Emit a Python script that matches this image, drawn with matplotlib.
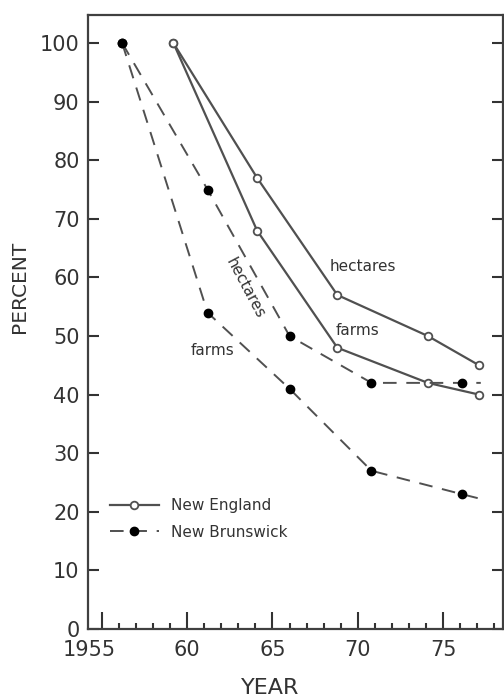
import numpy as np
import matplotlib.pyplot as plt
from matplotlib.transforms import ScaledTranslation

# New Brunswick (census years)
nb_years = [1956.2, 1961.2, 1966.0, 1970.8, 1976.1, 1977.2]
nb_hectares = [100, 75, 50, 42, 42, 42]
nb_farms = [100, 54, 41, 27, 23, 22.2]

# New England
ne_years = [1959.2, 1964.1, 1968.8, 1974.1, 1977.1]
ne_hectares = [100, 77, 57, 50, 45]
ne_farms = [100, 68, 48, 42, 40]

x_ticks = [1955, 1960, 1965, 1970, 1975]
x_labels = ['1955', '60', '65', '70', '75']
y_ticks = list(range(0, 101, 10))

line_col = '#505050'
text_col = '#333333'

plt.rcParams['font.family'] = 'DejaVu Sans'

fig = plt.figure(figsize=(5.04, 6.97), dpi=100)
ax = fig.add_axes([0.1746, 0.0976, 0.8234, 0.881])

# New England - solid, open circles
ax.plot(ne_years, ne_hectares, '-', color=line_col, lw=1.6,
        marker='o', ms=5.5, mfc='white', mec=line_col, mew=1.3, label='New England')
ax.plot(ne_years, ne_farms, '-', color=line_col, lw=1.6,
        marker='o', ms=5.5, mfc='white', mec=line_col, mew=1.3)

# New Brunswick - dashed, filled circles
ax.plot(nb_years, nb_hectares, color=line_col, lw=1.4, dashes=(7, 5),
        marker='o', ms=6, mfc='black', mec='black', markevery=[0, 1, 2, 3, 4],
        label='New Brunswick')
ax.plot(nb_years, nb_farms, color=line_col, lw=1.4, dashes=(7, 5),
        marker='o', ms=6, mfc='black', mec='black', markevery=[0, 1, 2, 3, 4])

# line labels
ax.text(1970.3, 61.9, 'hectares', fontsize=11, color=text_col, ha='center', va='center')
ax.text(1970.0, 51.0, 'farms', fontsize=11, color=text_col, ha='center', va='center')
ax.text(1963.4, 58.2, 'hectares', fontsize=11, color=text_col, ha='center', va='center',
        rotation=-62)
ax.text(1961.5, 47.6, 'farms', fontsize=11, color=text_col, ha='center', va='center')

ax.set_xlim(1954.2, 1978.5)
ax.set_ylim(0, 104.8)

ax.set_xticks(x_ticks)
ax.set_xticklabels(x_labels)
ax.set_xticks(np.arange(1955, 1979), minor=True)
ax.set_yticks(y_ticks)

ax.tick_params(axis='x', which='major', direction='in', length=12, width=1.5,
               labelsize=15, pad=8, colors=text_col, top=False)
ax.tick_params(axis='x', which='minor', direction='in', length=4, width=1.5,
               colors=text_col, top=False)
ax.tick_params(axis='y', which='major', direction='in', length=8, width=1.5,
               labelsize=15, pad=6, colors=text_col, left=True, right=True)

# shift the 1955 label left like the original
lab = ax.get_xticklabels()[0]
lab.set_transform(lab.get_transform() + ScaledTranslation(-12 / 100, 0, fig.dpi_scale_trans))

for sp in ax.spines.values():
    sp.set_linewidth(1.6)
    sp.set_color('#404040')

ax.legend(loc='center left', bbox_to_anchor=(0.053, 0.179), frameon=False,
          fontsize=11, handlelength=3.2, handletextpad=0.8, borderpad=0,
          borderaxespad=0, labelspacing=0.75, labelcolor=text_col)

fig.text(20 / 504, 1 - 287 / 697, 'PERCENT', rotation=90, fontsize=14.5,
         color=text_col, ha='center', va='center')
fig.text(270 / 504, 1 - 688 / 697, 'YEAR', fontsize=16, color=text_col,
         ha='center', va='center')

fig.savefig('out.png', dpi=100)
